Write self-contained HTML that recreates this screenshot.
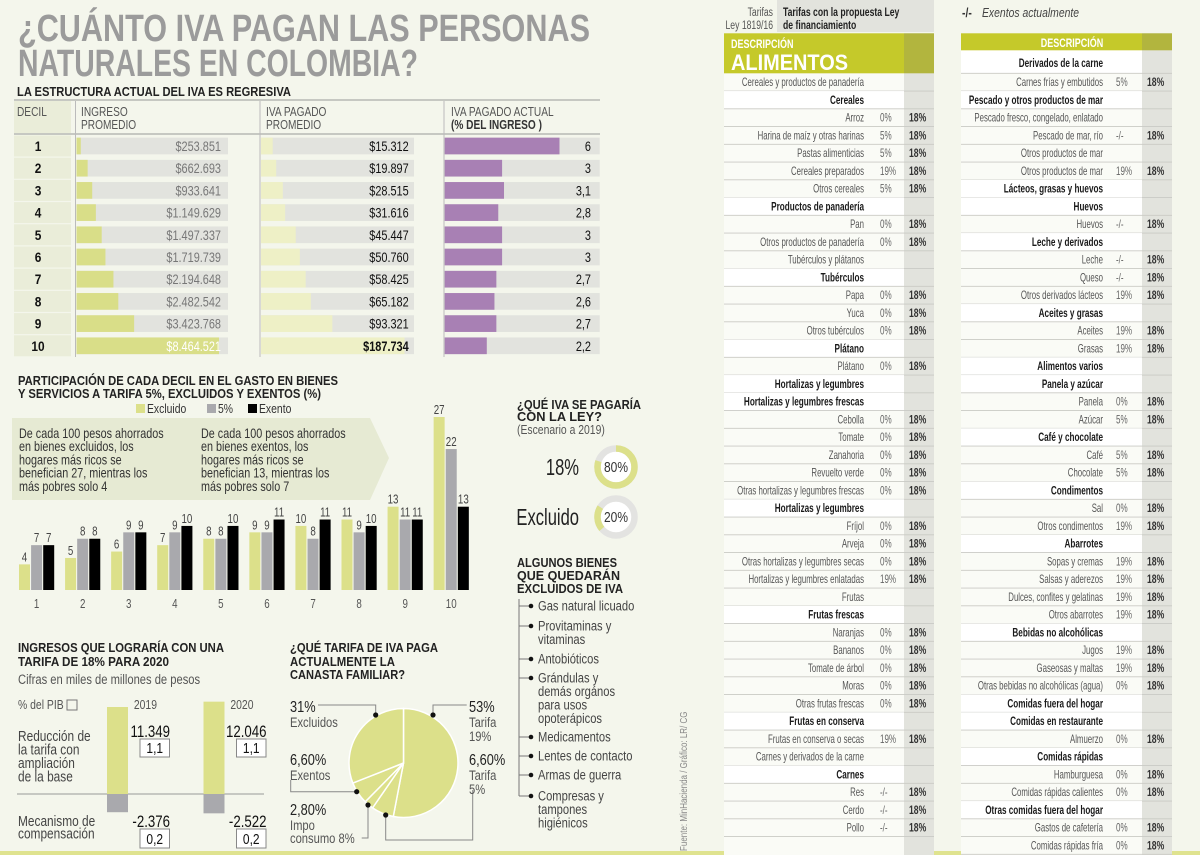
<!DOCTYPE html>
<html><head><meta charset="utf-8"><title>¿Cuánto IVA pagan las personas naturales en Colombia?</title>
<style>html,body{margin:0;padding:0;background:#f4f6ec;}svg{display:block;}</style></head>
<body>
<svg id="chart" width="1200" height="855" viewBox="0 0 1200 855" font-family="'Liberation Sans', sans-serif">
<rect width="1200" height="855" fill="#f4f6ec"/>
<rect x="0" y="851" width="1200" height="4" fill="#dfe38f"/>
</svg>
<script>
// ---- data: decile table ----
const deciles = [1,2,3,4,5,6,7,8,9,10];
const ingreso = [253851,662693,933641,1149629,1497337,1719739,2194648,2482542,3423768,8464521];
const ivaPagado = [15312,19897,28515,31616,45447,50760,58425,65182,93321,187734];
const pctIngreso = [6,3,3.1,2.8,3,3,2.7,2.6,2.7,2.2];
// ---- data: participation bar chart ----
const barCats = ['1','2','3','4','5','6','7','8','9','10'];
const excluido = [4,5,6,7,8,9,10,11,13,27];
const tarifa5 = [7,8,9,9,8,9,8,9,11,22];
const exento = [7,8,9,10,10,11,11,10,11,13];
// ---- data: donuts ----
const donutLabels = ['18%','Excluido'];
const donutValues = [80,20];
// ---- data: ingresos ----
const ingYears = ['2019','2020'];
const reduccion = [11349,12046];
const reduccionPib = [1.1,1.1];
const compensacion = [-2376,-2522];
const compensacionPib = [0.2,0.2];
// ---- data: pie ----
const pieLabels = ['Tarifa 19%','Tarifa 5%','Impo consumo 8%','Exentos','Excluidos'];
const pieValues = [53,6.6,2.8,6.6,31];

const NS='http://www.w3.org/2000/svg';
const svg=document.getElementById('chart');
function mk(tag,attrs,name){
  const el=document.createElementNS(NS,tag);
  for(const k in attrs) el.setAttribute(k,attrs[k]);
  
  
  svg.appendChild(el);return el;
}
function T(x,y,s,o,name){
  o=o||{};
  const el=document.createElementNS(NS,'text');
  if(o.w){el.setAttribute('x',x);el.setAttribute('y',y);el.setAttribute('textLength',o.w);el.setAttribute('lengthAdjust','spacingAndGlyphs');}
  else{el.setAttribute('x',0);el.setAttribute('y',0);el.setAttribute('transform','translate('+x+','+y+') scale('+(o.sx||0.75)+',1)');}
  el.setAttribute('font-size',o.fs||12);
  el.setAttribute('font-weight',o.fw||'normal');
  if(o.fst) el.setAttribute('font-style',o.fst);
  el.setAttribute('fill',o.fill||'#333');
  el.setAttribute('text-anchor',o.anchor||'start');
  el.textContent=s;
  
  
  svg.appendChild(el);return el;
}
const fmt=n=>'$'+String(n).replace(/\B(?=(\d{3})+(?!\d))/g,'.');
const fmtDot=n=>String(n).replace(/\B(?=(\d{3})+(?!\d))/g,'.');
const fmtC=n=>String(n).replace('.',',');

// ---- Title ----
T(18,41,'¿CUÁNTO IVA PAGAN LAS PERSONAS',{w:572,fs:38,fw:'bold',fill:'#9b9b9b'},'main-title-line1');
T(18,76,'NATURALES EN COLOMBIA?',{w:400,fs:38,fw:'bold',fill:'#9b9b9b'},'main-title-line2');

// ---- Decile table ----
T(17,96,'LA ESTRUCTURA ACTUAL DEL IVA ES REGRESIVA',{w:274,fs:13,fw:'bold',fill:'#222'},'decile-table-title');
mk('line',{x1:14,y1:100,x2:600,y2:100,stroke:'#999','stroke-width':1},'table-top-rule');
mk('rect',{x:14,y:101,width:57,height:32,fill:'#eaedd9'},'decil-header-cell');
mk('line',{x1:14,y1:134,x2:600,y2:134,stroke:'#999','stroke-width':1},'table-header-rule');
T(17,116,'DECIL',{fs:13,sx:.78,fill:'#555'},'decil-header');
T(81,116,'INGRESO',{fs:13,sx:.78,fill:'#555'},'ingreso-header');
T(81,129,'PROMEDIO',{fs:13,sx:.78,fill:'#555'},'ingreso-header');
T(266,116,'IVA PAGADO',{fs:13,sx:.78,fill:'#555'},'iva-header');
T(266,129,'PROMEDIO',{fs:13,sx:.78,fill:'#555'},'iva-header');
T(451,116,'IVA PAGADO ACTUAL',{fs:13,sx:.78,fill:'#555'},'pct-header');
T(451,129,'(% DEL INGRESO )',{fs:13,sx:.78,fw:'bold',fill:'#333'},'pct-header');
const sIng=(219-76.5)/Math.max(...ingreso), sIva=(404.5-261)/Math.max(...ivaPagado), sPct=(559.5-444.7)/6;
deciles.forEach((d,i)=>{
  const cy=146+i*22.2, top=cy-8.35;
  mk('rect',{x:14,y:cy-10.5,width:57,height:21,fill:'#eaedd9'},'decil-cell');
  T(38,cy+5,String(d),{fs:14,fw:'bold',sx:.85,anchor:'middle',fill:'#111'},'decil-number');
  mk('rect',{x:76.5,y:top,width:151.5,height:16.7,fill:'#e2e3de'},'ingreso-track');
  mk('rect',{x:76.5,y:top,width:ingreso[i]*sIng,height:16.7,fill:'#d9de88'},'ingreso-bar');
  T(221,cy+5,fmt(ingreso[i]),{fs:14,sx:.78,anchor:'end',fill:i==9?'#fff':'#777'},'ingreso-value');
  mk('rect',{x:261,y:top,width:153,height:16.7,fill:'#e2e3de'},'iva-track');
  mk('rect',{x:261,y:top,width:ivaPagado[i]*sIva,height:16.7,fill:'#eef0c6'},'iva-bar');
  T(408.7,cy+5,fmt(ivaPagado[i]),{fs:14,sx:.78,anchor:'end',fill:'#111',fw:i==9?'bold':'normal'},'iva-value');
  mk('rect',{x:444.7,y:top,width:155,height:16.7,fill:'#e2e3de'},'pct-track');
  mk('rect',{x:444.7,y:top,width:pctIngreso[i]*sPct,height:16.7,fill:'#a880b4'},'pct-bar');
  T(591,cy+5,fmtC(pctIngreso[i]),{fs:14,sx:.78,anchor:'end',fill:'#111'},'pct-value');
});
[75.5,260,444].forEach(x=>{mk('line',{x1:x,y1:101,x2:x,y2:357,stroke:'#bbb','stroke-width':1},'column-divider');});

// ---- Participation bar chart ----
T(18,385,'PARTICIPACIÓN DE CADA DECIL EN EL GASTO EN BIENES',{w:320,fs:13,fw:'bold',fill:'#222'},'bar-chart-title');
T(18,398,'Y SERVICIOS A TARIFA 5%, EXCLUIDOS Y EXENTOS (%)',{w:303,fs:13,fw:'bold',fill:'#222'},'bar-chart-title');
mk('rect',{x:136,y:404,width:9,height:9,fill:'#dce08a'},'legend-swatch-excluido');
T(147,413,'Excluido',{fs:13,sx:.8,fill:'#333'},'legend-excluido');
mk('rect',{x:207,y:404,width:9,height:9,fill:'#a9a9ad'},'legend-swatch-5');
T(218,413,'5%',{fs:13,sx:.8,fill:'#333'},'legend-5');
mk('rect',{x:248,y:404,width:9,height:9,fill:'#000'},'legend-swatch-exento');
T(259,413,'Exento',{fs:13,sx:.8,fill:'#333'},'legend-exento');
mk('polygon',{points:'12,418 370,418 389,458 370,500 12,500',fill:'#e6ead3'},'annotation-banner');
['De cada 100 pesos ahorrados','en bienes excluidos, los','hogares más ricos se','benefician 27, mientras los','más pobres solo 4'].forEach((s,k)=>T(19,438+k*13.2,s,{fs:13.5,sx:.8,fill:'#333'},'annotation-excluidos'));
['De cada 100 pesos ahorrados','en bienes exentos, los','hogares más ricos se','benefician 13, mientras los','más pobres solo 7'].forEach((s,k)=>T(201,438+k*13.2,s,{fs:13.5,sx:.8,fill:'#333'},'annotation-exentos'));
const base=590, yS=(590-417)/27;
const yv=v=>base-v*yS, xg=(i,k)=>19+i*46.07+k*12.1;
const series=[[excluido,'#dce08a','bar-excluido'],[tarifa5,'#a9a9ad','bar-5'],[exento,'#000','bar-exento']];
barCats.forEach((c,i)=>{
  series.forEach((s,k)=>{
    const v=s[0][i];
    mk('rect',{x:xg(i,k),y:yv(v),width:11,height:v*yS,fill:s[1]},s[2]);
    T(xg(i,k)+5.5,yv(v)-3,String(v),{fs:13,sx:.75,anchor:'middle',fill:'#444'},'bar-value');
  });
  T(xg(i,1)+5.5,608,c,{fs:13,sx:.75,anchor:'middle',fill:'#555'},'x-axis-label');
});

// ---- Donuts ----
T(517,409,'¿QUÉ IVA SE PAGARÍA',{w:124,fs:13,fw:'bold',fill:'#222'},'donut-title');
T(517,421,'CON LA LEY?',{w:85,fs:13,fw:'bold',fill:'#222'},'donut-title');
T(517,434,'(Escenario a 2019)',{fs:13,sx:.8,fill:'#555'},'donut-subtitle');
const donutStart=[0,230];
donutLabels.forEach((lab,i)=>{
  const cx=616, cy=467+i*50, r=18.5, C=2*Math.PI*r;
  T(579,cy+8,lab,{fs:23,sx:.72,anchor:'end',fill:'#222'},'donut-label');
  mk('circle',{cx:cx,cy:cy,r:r,fill:'#fff',stroke:'#e3e3e1','stroke-width':6.5},'donut-track');
  mk('circle',{cx:cx,cy:cy,r:r,fill:'none',stroke:'#dce08a','stroke-width':6.5,'stroke-dasharray':(donutValues[i]/100*C)+' '+C,transform:'rotate('+(-90+donutStart[i])+' '+cx+' '+cy+')'},'donut-arc');
  T(cx,cy+5,donutValues[i]+'%',{fs:15,sx:.8,anchor:'middle',fill:'#333'},'donut-value');
});

// ---- List ----
T(517,567,'ALGUNOS BIENES',{w:100,fs:13,fw:'bold',fill:'#222'},'list-title');
T(517,580,'QUE QUEDARÁN',{w:103,fs:13,fw:'bold',fill:'#222'},'list-title');
T(517,593,'EXCLUIDOS DE IVA',{w:106,fs:13,fw:'bold',fill:'#222'},'list-title');
mk('line',{x1:519,y1:599,x2:519,y2:796,stroke:'#777','stroke-width':1},'list-spine');
const items=[[606,['Gas natural licuado']],[626,['Provitaminas y','vitaminas']],[659,['Antobióticos']],[678,['Grándulas y','demás orgános','para usos','opoterápicos']],[737,['Medicamentos']],[756,['Lentes de contacto']],[775,['Armas de guerra']],[796,['Compresas y','tampones','higiénicos']]];
items.forEach(it=>{
  mk('line',{x1:519,y1:it[0],x2:530,y2:it[0],stroke:'#777','stroke-width':1},'list-tick');
  mk('circle',{cx:531,cy:it[0],r:2.3,fill:'#111'},'list-bullet');
  it[1].forEach((s,k)=>T(538,it[0]+4.5+k*13.5,s,{fs:14,sx:.8,fill:'#444'},'list-item'));
});

// ---- Ingresos ----
T(18,652,'INGRESOS QUE LOGRARÍA CON UNA',{w:206,fs:13,fw:'bold',fill:'#222'},'ingresos-title');
T(18,666,'TARIFA DE 18% PARA 2020',{w:151,fs:13,fw:'bold',fill:'#222'},'ingresos-title');
T(18,684,'Cifras en miles de millones de pesos',{fs:14,sx:.8,fill:'#555'},'ingresos-subtitle');
T(18,709,'% del PIB',{fs:13,sx:.8,fill:'#555'},'pib-legend');
mk('rect',{x:67,y:700,width:10,height:10,fill:'none',stroke:'#777','stroke-width':1},'pib-legend-box');
['Reducción de','la tarifa con','ampliación','de la base'].forEach((s,k)=>T(18,741+k*13.5,s,{fs:14.5,sx:.82,fill:'#444'},'reduccion-label'));
['Mecanismo de','compensación'].forEach((s,k)=>T(18,826+k*12.5,s,{fs:14.5,sx:.82,fill:'#444'},'compensacion-label'));
const ib=794, iS=87/11349;
mk('line',{x1:17,y1:ib,x2:264,y2:ib,stroke:'#999','stroke-width':1},'ingresos-baseline');
ingYears.forEach((y,i)=>{
  const bx=107+i*96.5, tx=bx+23;
  T(bx+50,709,y,{fs:13,sx:.8,anchor:'end',fill:'#555'},'year-label');
  mk('rect',{x:bx,y:ib-reduccion[i]*iS,width:21,height:reduccion[i]*iS,fill:'#dce08a'},'reduccion-bar');
  mk('rect',{x:bx,y:ib,width:21,height:-compensacion[i]*iS,fill:'#a9a9ad'},'compensacion-bar');
  T(tx+40,737,fmtDot(reduccion[i]),{fs:17,sx:.78,anchor:'end',fill:'#111'},'reduccion-value');
  mk('rect',{x:tx+10,y:739,width:29.5,height:18,fill:'#fff',stroke:'#888','stroke-width':1},'pib-box');
  T(tx+24.75,753,fmtC(reduccionPib[i]),{fs:15,sx:.8,anchor:'middle',fill:'#111'},'pib-value');
  T(tx+40,827,'-'+fmtDot(-compensacion[i]),{fs:17,sx:.78,anchor:'end',fill:'#111'},'compensacion-value');
  mk('rect',{x:tx+10,y:829,width:29.5,height:19,fill:'#fff',stroke:'#888','stroke-width':1},'pib-box');
  T(tx+24.75,844,fmtC(compensacionPib[i]),{fs:15,sx:.8,anchor:'middle',fill:'#111'},'pib-value');
});

// ---- Pie ----
T(290,652,'¿QUÉ TARIFA DE IVA PAGA',{w:148,fs:13,fw:'bold',fill:'#222'},'pie-title');
T(290,666,'ACTUALMENTE LA',{w:105,fs:13,fw:'bold',fill:'#222'},'pie-title');
T(290,679,'CANASTA FAMILIAR?',{w:115,fs:13,fw:'bold',fill:'#222'},'pie-title');
const pcx=403.5, pcy=763, pr=54.5;
const tot=pieValues.reduce((a,b)=>a+b,0);
let acc=0;
pieValues.forEach((v,i)=>{
  const a0=acc/tot*2*Math.PI; acc+=v; const a1=acc/tot*2*Math.PI;
  const p=a=>[pcx+pr*Math.sin(a),pcy-pr*Math.cos(a)];
  const [x0,y0]=p(a0),[x1,y1]=p(a1);
  mk('path',{d:'M'+pcx+','+pcy+' L'+x0+','+y0+' A'+pr+','+pr+' 0 '+((a1-a0)>Math.PI?1:0)+' 1 '+x1+','+y1+' Z',fill:'#dce08a',stroke:'#fff','stroke-width':1.5},'pie-slice');
});
const leaders=[['318,705 375.7,705 375.7,715',375.7,715],['466.7,705 433,705 433,715',433,715],['290.7,780 290.7,791.7 356.7,791.7',356.7,791.7],['368,805 368,838 361.7,838',368,805],['385.7,815 385.7,840 472.7,840 472.7,790',385.7,815]];
leaders.forEach(l=>{mk('polyline',{points:l[0],fill:'none',stroke:'#888','stroke-width':1},'pie-leader');mk('circle',{cx:l[1],cy:l[2],r:2.6,fill:'#111'},'pie-leader-dot');});
const fp=v=>fmtC(v.toFixed(v%1?2:0).replace(/^(\d)\.(\d)$/,'$1.$20'));
T(290,712,pieValues[4]+'%',{fs:16,sx:.8,fill:'#222'},'pie-value-excluidos');
T(290,727,'Excluidos',{fs:14,sx:.8,fill:'#555'},'pie-label');
T(469,712,pieValues[0]+'%',{fs:16,sx:.8,fill:'#222'},'pie-value-19');
T(469,727,'Tarifa',{fs:14,sx:.8,fill:'#555'},'pie-label');
T(469,741,'19%',{fs:14,sx:.8,fill:'#555'},'pie-label');
T(469,765,fp(pieValues[1])+'%',{fs:16,sx:.8,fill:'#222'},'pie-value-5');
T(469,780,'Tarifa',{fs:14,sx:.8,fill:'#555'},'pie-label');
T(469,794,'5%',{fs:14,sx:.8,fill:'#555'},'pie-label');
T(290,765,fp(pieValues[3])+'%',{fs:16,sx:.8,fill:'#222'},'pie-value-exentos');
T(290,780,'Exentos',{fs:14,sx:.8,fill:'#555'},'pie-label');
T(290,815,fp(pieValues[2])+'%',{fs:16,sx:.8,fill:'#222'},'pie-value-impoconsumo');
T(290,830,'Impo',{fs:14,sx:.8,fill:'#555'},'pie-label');
T(290,843,'consumo 8%',{fs:14,sx:.8,fill:'#555'},'pie-label');

// ---- Source ----
const src=T(0,0,'Fuente: MinHacienda / Gráfico: LR/ CG',{fs:10,sx:.8,fill:'#888'},'source-note');
src.setAttribute('transform','translate(687,851) rotate(-90) scale(0.8,1)');

// ---- Right tables ----
const leftRows=[['Cereales y productos de panadería'],['*Cereales'],['Arroz','0%','18%'],['Harina de maíz y otras harinas','5%','18%'],['Pastas alimenticias','5%','18%'],['Cereales preparados','19%','18%'],['Otros cereales','5%','18%'],['*Productos de panadería'],['Pan','0%','18%'],['Otros productos de panadería','0%','18%'],['Tubérculos y plátanos'],['*Tubérculos'],['Papa','0%','18%'],['Yuca','0%','18%'],['Otros tubérculos','0%','18%'],['*Plátano'],['Plátano','0%','18%'],['*Hortalizas y legumbres'],['*Hortalizas y legumbres frescas'],['Cebolla','0%','18%'],['Tomate','0%','18%'],['Zanahoria','0%','18%'],['Revuelto verde','0%','18%'],['Otras hortalizas y legumbres frescas','0%','18%'],['*Hortalizas y legumbres'],['Fríjol','0%','18%'],['Arveja','0%','18%'],['Otras hortalizas y legumbres secas','0%','18%'],['Hortalizas y legumbres enlatadas','19%','18%'],['Frutas'],['*Frutas frescas'],['Naranjas','0%','18%'],['Bananos','0%','18%'],['Tomate de árbol','0%','18%'],['Moras','0%','18%'],['Otras frutas frescas','0%','18%'],['*Frutas en conserva'],['Frutas en conserva o secas','19%','18%'],['Carnes y derivados de la carne'],['*Carnes'],['Res','-/-','18%'],['Cerdo','-/-','18%'],['Pollo','-/-','18%']];
const rightRows=[['Carnes frías y embutidos','5%','18%'],['*Pescado y otros productos de mar'],['Pescado fresco, congelado, enlatado'],['Pescado de mar, río','-/-','18%'],['Otros productos de mar'],['Otros productos de mar','19%','18%'],['*Lácteos, grasas y huevos'],['*Huevos'],['Huevos','-/-','18%'],['*Leche y derivados'],['Leche','-/-','18%'],['Queso','-/-','18%'],['Otros derivados lácteos','19%','18%'],['*Aceites y grasas'],['Aceites','19%','18%'],['Grasas','19%','18%'],['*Alimentos varios'],['*Panela y azúcar'],['Panela','0%','18%'],['Azúcar','5%','18%'],['*Café y chocolate'],['Café','5%','18%'],['Chocolate','5%','18%'],['*Condimentos'],['Sal','0%','18%'],['Otros condimentos','19%','18%'],['*Abarrotes'],['Sopas y cremas','19%','18%'],['Salsas y aderezos','19%','18%'],['Dulces, confites y gelatinas','19%','18%'],['Otros abarrotes','19%','18%'],['*Bebidas no alcohólicas'],['Jugos','19%','18%'],['Gaseosas y maltas','19%','18%'],['Otras bebidas no alcohólicas (agua)','0%','18%'],['*Comidas fuera del hogar'],['*Comidas en restaurante'],['Almuerzo','0%','18%'],['*Comidas rápidas'],['Hamburguesa','0%','18%'],['Comidas rápidas calientes','0%','18%'],['*Otras comidas fuera del hogar'],['Gastos de cafetería','0%','18%'],['Comidas rápidas fría','0%','18%']];
function table(x0,x1,gx,descEnd,rateX,newX,rows){
  mk('rect',{x:x0,y:73.3,width:gx-x0,height:855-73.3,fill:'#fafbf6'},'table-body');
  mk('rect',{x:gx,y:33.3,width:x1-gx,height:855-33.3,fill:'#e2e3dd'},'new-rate-column');
  rows.forEach((r,i)=>{
    const top=73.3+i*17.75, bold=r[0][0]=='*', s=bold?r[0].slice(1):r[0];
    if(bold) mk('rect',{x:x0,y:top,width:gx-x0,height:17.75,fill:'#fff'},'category-row');
    mk('line',{x1:x0,y1:top+17.75,x2:x1,y2:top+17.75,stroke:'#c9cac4','stroke-width':0.8},'row-divider');
    T(descEnd,top+12.8,s,{fs:bold?12:11.5,sx:.68,fw:bold?'bold':'normal',anchor:'end',fill:bold?'#1a1a1a':'#555'},bold?'category-name':'product-name');
    if(r[1]) T(rateX,top+12.8,r[1],{fs:11.5,sx:.7,fill:'#666'},'current-rate');
    if(r[2]) T(newX,top+12.8,r[2],{fs:12,sx:.72,fw:'bold',fill:'#333'},'proposed-rate');
  });
}
table(724,934,904,864,880,909,leftRows);
mk('rect',{x:961,y:50,width:181,height:23.3,fill:'#fff'},'category-row');
table(961,1172,1142,1103,1116,1147,rightRows);
T(1103,67,'Derivados de la carne',{fs:12,sx:.68,fw:'bold',anchor:'end',fill:'#1a1a1a'},'category-name');
mk('line',{x1:961,y1:73.3,x2:1172,y2:73.3,stroke:'#c9cac4','stroke-width':0.8},'row-divider');
// headers
mk('rect',{x:777,y:0,width:157,height:32,fill:'#e2e3dd'},'proposal-header-cell');
T(773,16,'Tarifas',{fs:12,sx:.72,anchor:'end',fill:'#555'},'tarifas-header');
T(773,29,'Ley 1819/16',{fs:12,sx:.72,anchor:'end',fill:'#555'},'tarifas-header');
T(783,16,'Tarifas con la propuesta Ley',{fs:12,sx:.72,fw:'bold',fill:'#222'},'proposal-header');
T(783,29,'de financiamiento',{fs:12,sx:.72,fw:'bold',fill:'#222'},'proposal-header');
mk('rect',{x:724,y:33.3,width:180,height:40,fill:'#c5c92a'},'alimentos-header');
mk('rect',{x:904,y:33.3,width:30,height:40,fill:'#b2b53e'},'alimentos-header-rate');
T(731,48,'DESCRIPCIÓN',{fs:12,sx:.75,fw:'bold',fill:'#fff'},'descripcion-header');
T(731,70,'ALIMENTOS',{w:117,fs:22,fw:'bold',fill:'#fff'},'alimentos-title');
mk('rect',{x:961,y:33.3,width:181,height:17,fill:'#c5c92a'},'descripcion-header-bg');
mk('rect',{x:1142,y:33.3,width:30,height:17,fill:'#b2b53e'},'descripcion-header-rate');
T(1072,47,'DESCRIPCIÓN',{fs:12,sx:.75,fw:'bold',anchor:'middle',fill:'#fff'},'descripcion-header');
T(962,17,'-/-',{fs:13,sx:.8,fw:'bold',fill:'#333'},'exentos-legend-symbol');
T(982,17,'Exentos actualmente',{fs:13,sx:.8,fst:'italic',fill:'#444'},'exentos-legend');
</script>
</body></html>
